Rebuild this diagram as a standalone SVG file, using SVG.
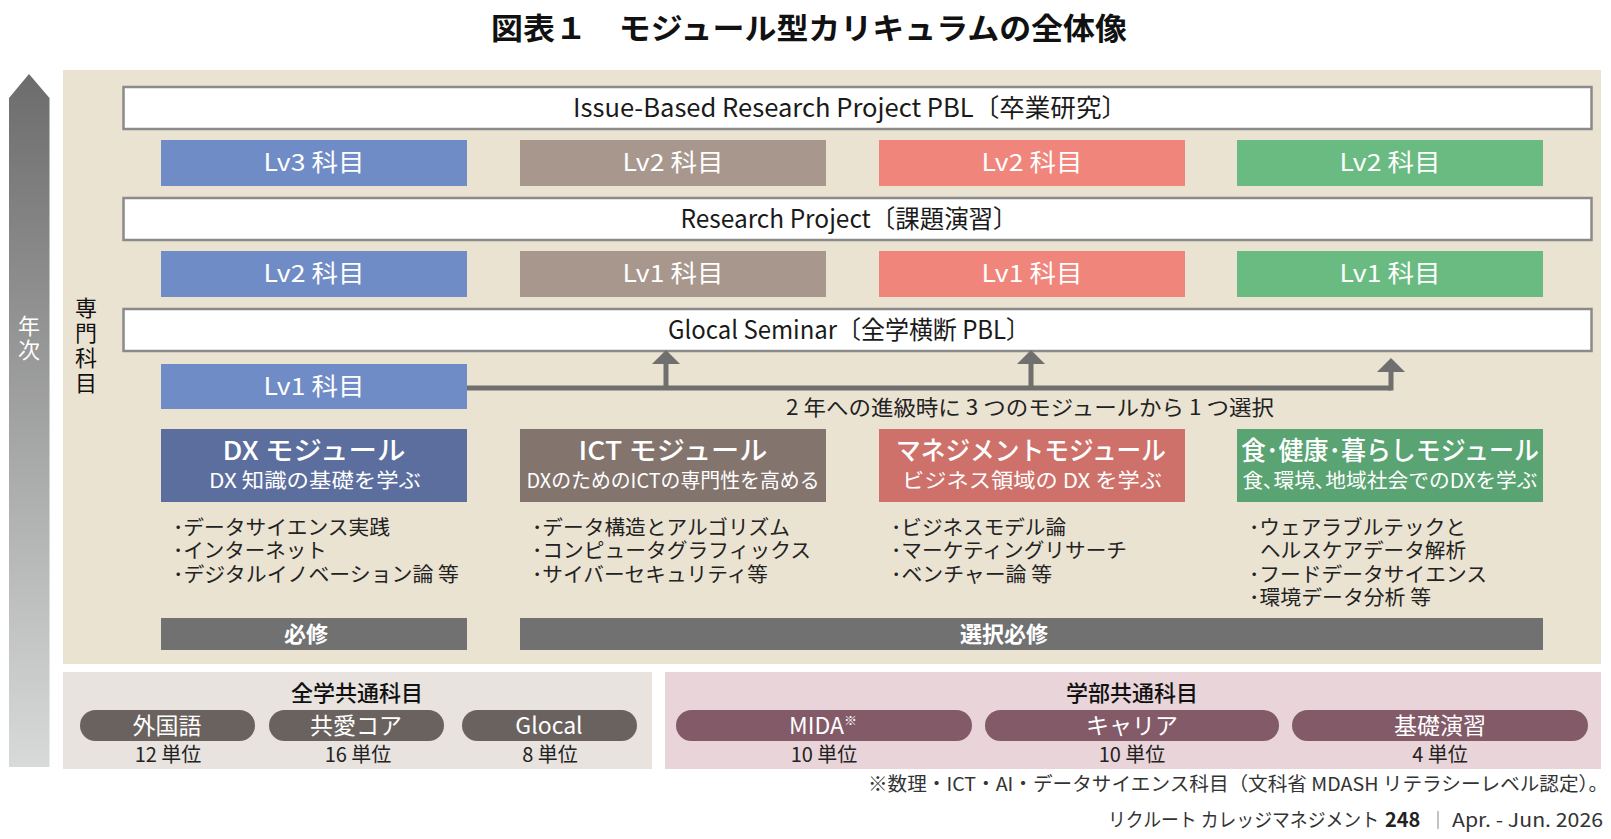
<svg xmlns="http://www.w3.org/2000/svg" width="1611" height="839" viewBox="0 0 1611 839">
<defs>
<linearGradient id="yearGrad" x1="0" y1="0" x2="0" y2="1">
<stop offset="0" stop-color="#6c6c6c"/>
<stop offset="1" stop-color="#d8d9d9"/>
</linearGradient>
<style>
text{font-family:"Noto Sans CJK JP","Liberation Sans",sans-serif;}
.wbox{fill:#ffffff;stroke:#8a8a8a;stroke-width:2.5;}
.wtxt{font-size:25px;fill:#1a1a1a;text-anchor:middle;}
.lv{font-size:24px;fill:#ffffff;text-anchor:middle;}
.mt{font-size:26px;fill:#ffffff;text-anchor:middle;font-weight:500;}
.ms{font-size:20px;fill:#ffffff;text-anchor:middle;}
.li{font-size:20.5px;fill:#222222;}
.bar{fill:#717171;}
.bt{font-size:22px;fill:#ffffff;text-anchor:middle;font-weight:700;}
.pg{fill:#6a625e;}
.pp{fill:#835a68;}
.pt{font-size:23px;fill:#ffffff;text-anchor:middle;}
.ut{font-size:20px;fill:#222222;text-anchor:middle;}
.hd{font-size:22px;fill:#111111;text-anchor:middle;font-weight:500;}
.blue{fill:#708cc6;}
.brown{fill:#a8978d;}
.red{fill:#f0857c;}
.green{fill:#69bb81;}
.conn{stroke:#6f6f6f;stroke-width:5;fill:none;}
.head{fill:#6f6f6f;}
</style>
</defs>

<rect x="0" y="0" width="1611" height="839" fill="#ffffff"/>

<g id="title">
<text x="809" y="39" font-size="30" font-weight="700" fill="#111111" text-anchor="middle" textLength="636" lengthAdjust="spacingAndGlyphs">図表１　モジュール型カリキュラムの全体像</text>
</g>

<g id="year-arrow">
<polygon points="9,98 29,74 49.5,98 49.5,767 9,767" fill="url(#yearGrad)"/>
<text font-size="22" fill="#ffffff" text-anchor="middle"><tspan x="29" y="334">年</tspan><tspan x="29" y="358">次</tspan></text>
</g>

<g id="senmon-area">
<rect x="63" y="70" width="1538" height="594" fill="#ebe3d2"/>
<text font-size="22" fill="#111111" text-anchor="middle"><tspan x="86" y="316">専</tspan><tspan x="86" y="341">門</tspan><tspan x="86" y="366">科</tspan><tspan x="86" y="391">目</tspan></text>
</g>

<g id="issue-pbl">
<rect class="wbox" x="123.5" y="87" width="1468" height="42"/>
<text class="wtxt" x="850" y="117" textLength="554" lengthAdjust="spacingAndGlyphs">Issue-Based Research Project PBL〔卒業研究〕</text>
</g>

<g id="lv3-dx"><rect class="blue" x="161" y="140" width="306" height="46"/><text class="lv" x="314" y="171" textLength="101" lengthAdjust="spacingAndGlyphs">Lv3 科目</text></g>
<g id="lv2-ict"><rect class="brown" x="520" y="140" width="306" height="46"/><text class="lv" x="673" y="171" textLength="101" lengthAdjust="spacingAndGlyphs">Lv2 科目</text></g>
<g id="lv2-mgmt"><rect class="red" x="879" y="140" width="306" height="46"/><text class="lv" x="1032" y="171" textLength="101" lengthAdjust="spacingAndGlyphs">Lv2 科目</text></g>
<g id="lv2-food"><rect class="green" x="1237" y="140" width="306" height="46"/><text class="lv" x="1390" y="171" textLength="101" lengthAdjust="spacingAndGlyphs">Lv2 科目</text></g>

<g id="research-project">
<rect class="wbox" x="123.5" y="198" width="1468" height="42"/>
<text class="wtxt" x="849" y="228" textLength="337" lengthAdjust="spacingAndGlyphs">Research Project〔課題演習〕</text>
</g>

<g id="lv2-dx"><rect class="blue" x="161" y="251" width="306" height="46"/><text class="lv" x="314" y="282" textLength="101" lengthAdjust="spacingAndGlyphs">Lv2 科目</text></g>
<g id="lv1-ict"><rect class="brown" x="520" y="251" width="306" height="46"/><text class="lv" x="673" y="282" textLength="101" lengthAdjust="spacingAndGlyphs">Lv1 科目</text></g>
<g id="lv1-mgmt"><rect class="red" x="879" y="251" width="306" height="46"/><text class="lv" x="1032" y="282" textLength="101" lengthAdjust="spacingAndGlyphs">Lv1 科目</text></g>
<g id="lv1-food"><rect class="green" x="1237" y="251" width="306" height="46"/><text class="lv" x="1390" y="282" textLength="101" lengthAdjust="spacingAndGlyphs">Lv1 科目</text></g>

<g id="glocal-seminar">
<rect class="wbox" x="123.5" y="309" width="1468" height="42"/>
<text class="wtxt" x="849" y="339" textLength="362" lengthAdjust="spacingAndGlyphs">Glocal Seminar〔全学横断 PBL〕</text>
</g>

<g id="lv1-dx"><rect class="blue" x="161" y="364" width="306" height="45"/><text class="lv" x="314" y="395" textLength="101" lengthAdjust="spacingAndGlyphs">Lv1 科目</text></g>

<g id="connectors">
<polyline class="conn" points="467,388 1391,388"/>
<line class="conn" x1="666" y1="388" x2="666" y2="362"/>
<polygon class="head" points="652,364 666,350 680,364"/>
<line class="conn" x1="1031" y1="388" x2="1031" y2="362"/>
<polygon class="head" points="1017,364 1031,350 1045,364"/>
<line class="conn" x1="1391" y1="390.5" x2="1391" y2="370"/>
<polygon class="head" points="1377,372 1391,358 1405,372"/>
<text x="1030" y="415" font-size="21" fill="#222222" text-anchor="middle" textLength="488" lengthAdjust="spacingAndGlyphs">2 年への進級時に 3 つのモジュールから 1 つ選択</text>
</g>

<g id="dx-module">
<rect x="161" y="429" width="306" height="73" fill="#5b6e9e"/>
<text class="mt" x="314" y="460" textLength="183" lengthAdjust="spacingAndGlyphs">DX モジュール</text>
<text class="ms" x="315" y="488" textLength="212" lengthAdjust="spacingAndGlyphs">DX 知識の基礎を学ぶ</text>
<text class="li"><tspan x="173" y="535" textLength="217" lengthAdjust="spacingAndGlyphs">･データサイエンス実践</tspan><tspan x="173" y="558">･インターネット</tspan><tspan x="173" y="582" textLength="286" lengthAdjust="spacingAndGlyphs">･デジタルイノベーション論 等</tspan></text>
</g>

<g id="ict-module">
<rect x="520" y="429" width="306" height="73" fill="#83746e"/>
<text class="mt" x="673" y="460" textLength="189" lengthAdjust="spacingAndGlyphs">ICT モジュール</text>
<text class="ms" x="673" y="488" textLength="293" lengthAdjust="spacingAndGlyphs">DXのためのICTの専門性を高める</text>
<text class="li"><tspan x="532" y="535" textLength="258" lengthAdjust="spacingAndGlyphs">･データ構造とアルゴリズム</tspan><tspan x="532" y="558" textLength="279" lengthAdjust="spacingAndGlyphs">･コンピュータグラフィックス</tspan><tspan x="532" y="582" textLength="236" lengthAdjust="spacingAndGlyphs">･サイバーセキュリティ等</tspan></text>
</g>

<g id="mgmt-module">
<rect x="879" y="429" width="306" height="73" fill="#ce716a"/>
<text class="mt" x="1031" y="460" textLength="270" lengthAdjust="spacingAndGlyphs">マネジメントモジュール</text>
<text class="ms" x="1032" y="488" textLength="260" lengthAdjust="spacingAndGlyphs">ビジネス領域の DX を学ぶ</text>
<text class="li"><tspan x="891" y="535" textLength="175" lengthAdjust="spacingAndGlyphs">･ビジネスモデル論</tspan><tspan x="891" y="558" textLength="236" lengthAdjust="spacingAndGlyphs">･マーケティングリサーチ</tspan><tspan x="891" y="582" textLength="161" lengthAdjust="spacingAndGlyphs">･ベンチャー論 等</tspan></text>
</g>

<g id="food-module">
<rect x="1237" y="429" width="306" height="73" fill="#5aa372"/>
<text class="mt" x="1390" y="460" textLength="298" lengthAdjust="spacingAndGlyphs">食･健康･暮らしモジュール</text>
<text class="ms" x="1390" y="488" textLength="295" lengthAdjust="spacingAndGlyphs">食､環境､地域社会でのDXを学ぶ</text>
<text class="li"><tspan x="1249" y="535" textLength="217" lengthAdjust="spacingAndGlyphs">･ウェアラブルテックと</tspan><tspan x="1260" y="558" textLength="206" lengthAdjust="spacingAndGlyphs">ヘルスケアデータ解析</tspan><tspan x="1249" y="582" textLength="238" lengthAdjust="spacingAndGlyphs">･フードデータサイエンス</tspan><tspan x="1249" y="605" textLength="182" lengthAdjust="spacingAndGlyphs">･環境データ分析 等</tspan></text>
</g>

<g id="hisshu">
<rect class="bar" x="161" y="618" width="306" height="32"/>
<text class="bt" x="306" y="642">必修</text>
</g>

<g id="sentaku-hisshu">
<rect class="bar" x="520" y="618" width="1023" height="32"/>
<text class="bt" x="1004" y="642">選択必修</text>
</g>

<g id="zengaku-common">
<rect x="63" y="672" width="589" height="97" fill="#e8e3df"/>
<text class="hd" x="357" y="701">全学共通科目</text>
<rect class="pg" x="80" y="710" width="175" height="31" rx="15.5"/>
<text class="pt" x="167" y="734">外国語</text>
<text class="ut" x="168" y="762">12 単位</text>
<rect class="pg" x="269" y="710" width="175" height="31" rx="15.5"/>
<text class="pt" x="356" y="734">共愛コア</text>
<text class="ut" x="358" y="762">16 単位</text>
<rect class="pg" x="462" y="710" width="175" height="31" rx="15.5"/>
<text class="pt" x="549" y="734">Glocal</text>
<text class="ut" x="550" y="762">8 単位</text>
</g>

<g id="gakubu-common">
<rect x="665" y="672" width="936" height="97" fill="#e8d4d9"/>
<text class="hd" x="1132" y="701">学部共通科目</text>
<rect class="pp" x="676" y="710" width="296" height="31" rx="15.5"/>
<text class="pt" x="823" y="734">MIDA<tspan font-size="13" dy="-9">※</tspan></text>
<text class="ut" x="824" y="762">10 単位</text>
<rect class="pp" x="985" y="710" width="294" height="31" rx="15.5"/>
<text class="pt" x="1132" y="734">キャリア</text>
<text class="ut" x="1132" y="762">10 単位</text>
<rect class="pp" x="1292" y="710" width="296" height="31" rx="15.5"/>
<text class="pt" x="1440" y="734">基礎演習</text>
<text class="ut" x="1440" y="762">4 単位</text>
</g>

<g id="footnote">
<text x="1608" y="791" font-size="19" fill="#333333" text-anchor="end" textLength="740" lengthAdjust="spacingAndGlyphs">※数理・ICT・AI・データサイエンス科目（文科省 MDASH リテラシーレベル認定）。</text>
</g>

<g id="footer">
<text x="1108" y="827" font-size="19" fill="#333333" textLength="271" lengthAdjust="spacingAndGlyphs">リクルート カレッジマネジメント</text>
<text x="1385" y="827" font-size="20" font-weight="700" fill="#222222" font-family="Liberation Sans, sans-serif">248</text>
<line x1="1438" y1="811" x2="1438" y2="829" stroke="#888888" stroke-width="1"/>
<text x="1452" y="827" font-size="19" fill="#333333" textLength="151" lengthAdjust="spacingAndGlyphs">Apr. - Jun. 2026</text>
</g>
</svg>
